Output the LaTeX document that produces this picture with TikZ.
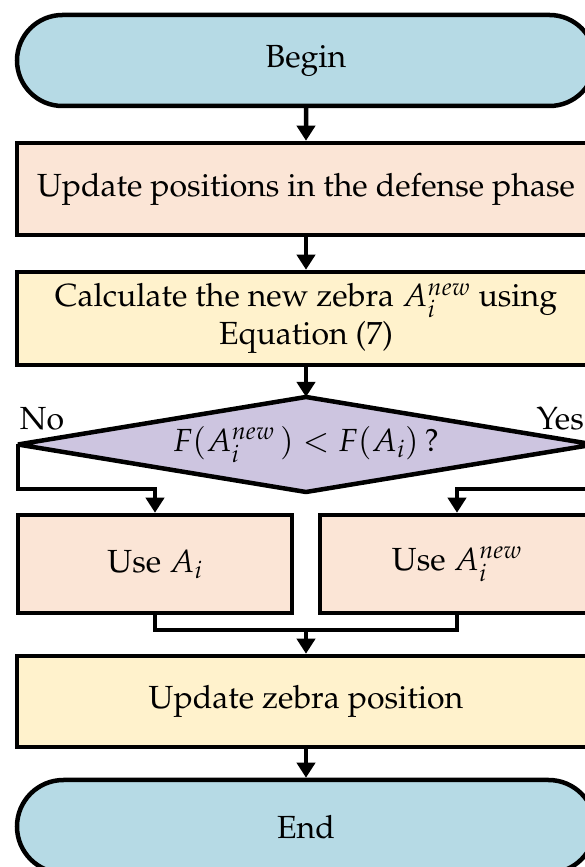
\documentclass[tikz,border=0pt]{standalone}
\usepackage[T1]{fontenc}
\usepackage{mathpazo}
\usetikzlibrary{shapes.geometric,shapes.misc,arrows.meta}
\definecolor{termblue}{RGB}{182,218,229}
\definecolor{peach}{RGB}{251,229,214}
\definecolor{paleyellow}{RGB}{255,242,204}
\definecolor{lavender}{RGB}{205,197,224}
\tikzset{
  x=1pt,y=1pt,
  every node/.style={font=\fontsize{32}{38}\selectfont, inner sep=0pt},
  term/.style={rounded rectangle, draw, line width=4.5pt, fill=termblue, minimum width=578pt, minimum height=91pt},
  procbox/.style={rectangle, draw, line width=4.5pt, minimum width=578pt, minimum height=92pt, align=center},
  halfbox/.style={rectangle, draw, line width=4.5pt, fill=peach, minimum width=274pt, minimum height=98pt},
  decision/.style={diamond, draw, line width=4.5pt, fill=lavender, minimum width=576pt, minimum height=95pt, aspect=6, line join=bevel, outer sep=0pt},
  conn/.style={line width=4.5pt},
  arr/.style={line width=4.5pt, -{Triangle[width=18pt,length=15pt]}}
}
\begin{document}
\begin{tikzpicture}
\useasboundingbox (0,0) rectangle (585,867);
\clip (0,0) rectangle (585,867);
\node[term] (begin) at (306,806.5) {Begin};
\node[procbox, fill=peach] (b1) at (306,678) {Update positions in the defense phase};
\node[procbox, fill=paleyellow, minimum height=93pt] (b2) at (306,548.5) {Calculate the new zebra $A_i^{new}$ using\\Equation (7)};
\node[decision] (d) at (306,422.5) {$F(A_i^{new}\,) < F(A_i)\,?$};
\node[halfbox] (ua) at (155,303) {Use $A_i$};
\node[halfbox] (un) at (457,303) {Use $A_i^{new}$};
\node[procbox, fill=paleyellow, minimum height=91pt] (b4) at (306,165.5) {Update zebra position};
\node[term, minimum height=93pt] (end) at (306,40.5) {End};
\node (no) at (42,448) {No};
\node[anchor=east] (yes) at (584,448) {Yes};
\coordinate (nocorner) at (18,378);
\coordinate (yescorner) at (594,378);
\coordinate (merge) at (306,237);
\draw[arr] (begin) -- (b1);
\draw[arr] (b1) -- (b2);
\draw[arr] (b2) -- (d);
\draw[arr, line join=miter] (d.west) -- (nocorner) -| (ua.north);
\draw[arr, line join=miter] (d.east) -- (yescorner) -| (un.north);
\draw[conn] (ua.south) |- (merge) -| (un.south);
\draw[arr] (merge) -- (b4);
\draw[arr] (b4) -- (end);
\end{tikzpicture}
\end{document}
